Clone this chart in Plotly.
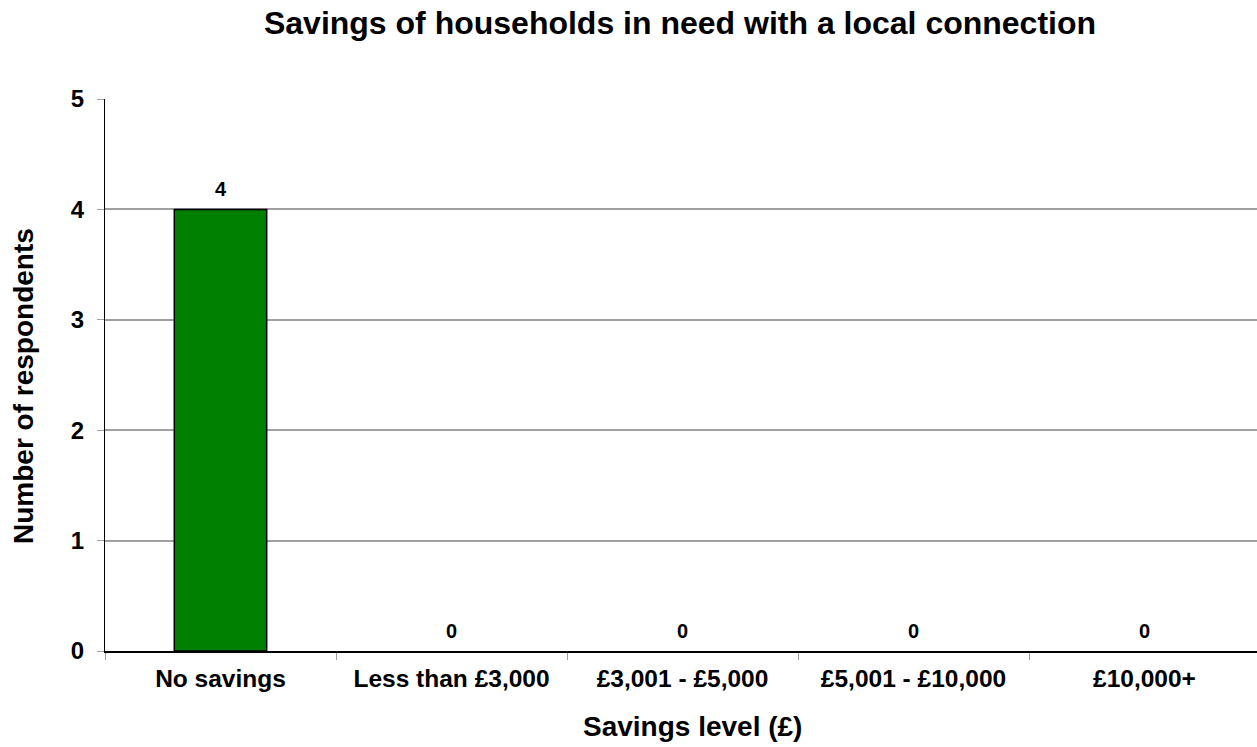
import plotly.graph_objects as go

# Survey responses: savings level of households in need with a local connection
categories = ["No savings", "Less than £3,000", "£3,001 - £5,000", "£5,001 - £10,000", "£10,000+"]
respondents = [4, 0, 0, 0, 0]

FONT = "Arial, Liberation Sans, Helvetica, sans-serif"

fig = go.Figure()
fig.add_trace(go.Bar(
    x=categories,
    y=respondents,
    width=0.4,
    marker=dict(
        color="#008000",
        line=dict(color="#000000", width=[1.5 if v > 0 else 0 for v in respondents]),
    ),
    hoverinfo="x+y",
))

# Value labels above each bar
annotations = [
    dict(x=c, y=v, xref="x", yref="y", text=f"<b>{v}</b>", showarrow=False,
         yanchor="bottom", yshift=7, font=dict(family=FONT, size=20, color="#000"))
    for c, v in zip(categories, respondents)
]

# Axis titles
annotations.append(dict(
    text="<b>Savings level (£)</b>", xref="paper", yref="paper", x=0.5104, y=0,
    xanchor="center", yanchor="middle", yshift=-75, showarrow=False,
    font=dict(family=FONT, size=28, color="#000"),
))
annotations.append(dict(
    text="<b>Number of respondents</b>", xref="paper", yref="paper", x=0, y=0.5,
    xanchor="center", xshift=-82, yshift=-11, textangle=-90, showarrow=False,
    font=dict(family=FONT, size=28, color="#000"),
))

fig.update_layout(
    width=1257,
    height=747,
    margin=dict(l=105, r=0, t=99, b=96),
    paper_bgcolor="#ffffff",
    plot_bgcolor="#ffffff",
    showlegend=False,
    title=dict(
        text="<b>Savings of households in need with a local connection</b>",
        x=680 / 1257, xanchor="center", y=1 - 23 / 747, yanchor="middle",
        font=dict(family=FONT, size=32, color="#000"),
    ),
    annotations=annotations,
)

fig.update_xaxes(
    range=[-0.5, 4.487],
    showline=True, linecolor="#000000", linewidth=1.5,
    ticks="outside", tickson="boundaries", ticklen=7, tickcolor="#a0a0a0", tickwidth=1,
    tickfont=dict(family=FONT, size=24.5, color="#000"),
    tickprefix="<b>", ticksuffix="</b>",
    ticklabelstandoff=5,
    showgrid=False, zeroline=False,
)
fig.update_yaxes(
    range=[0, 5], dtick=1,
    showline=True, linecolor="#000000", linewidth=1,
    ticks="outside", ticklen=7, tickcolor="#a0a0a0", tickwidth=1,
    tickfont=dict(family=FONT, size=24, color="#000"),
    tickprefix="<b>", ticksuffix="</b>",
    ticklabelstandoff=8,
    showgrid=True, gridcolor="#a0a0a0", gridwidth=1.5,
    zeroline=False,
)

fig.write_html("out.html")
